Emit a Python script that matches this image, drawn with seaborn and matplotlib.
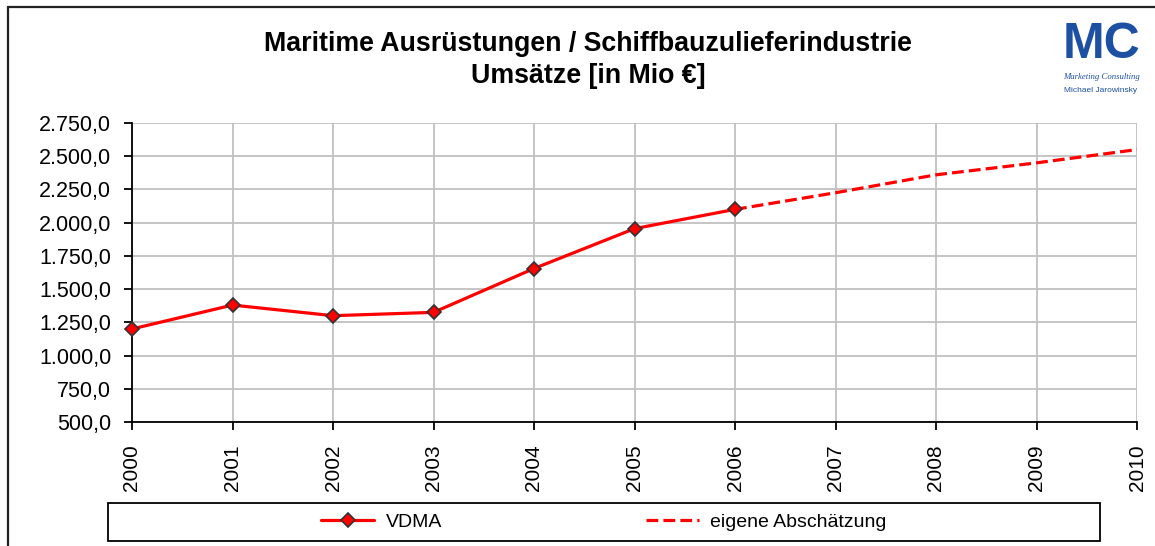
import matplotlib.pyplot as plt
import matplotlib.ticker as mticker
import pandas as pd
import seaborn as sns
from matplotlib.lines import Line2D
from matplotlib.patches import Rectangle

# VDMA figures and own estimate (Mio EUR)
years_vdma = [2000, 2001, 2002, 2003, 2004, 2005, 2006]
sales_vdma = [1200, 1380, 1300, 1325, 1655, 1955, 2100]
years_est = [2006, 2007, 2008, 2009, 2010]
sales_est = [2100, 2225, 2360, 2450, 2550]
year_ticks = list(range(2000, 2011))
y_ticks = [500, 750, 1000, 1250, 1500, 1750, 2000, 2250, 2500, 2750]

TITLE = "Maritime Ausrüstungen / Schiffbauzulieferindustrie\nUmsätze [in Mio €]"


def de_fmt(v, pos):
    s = f"{v:,.1f}"
    return s.replace(",", "X").replace(".", ",").replace("X", ".")


sns.set_theme(style="whitegrid")
plt.rcParams["font.family"] = ["Liberation Sans", "DejaVu Sans"]
plt.rcParams["text.color"] = "black"
plt.rcParams["xtick.color"] = "black"
plt.rcParams["ytick.color"] = "black"

fig = plt.figure(figsize=(11.55, 5.46), dpi=100)
W, H = 1155, 546
ax = fig.add_axes([132 / W, 1 - 422 / H, (1137 - 132) / W, (422 - 123) / H])

df_vdma = pd.DataFrame({"Jahr": years_vdma, "Umsatz": sales_vdma})
df_est = pd.DataFrame({"Jahr": years_est, "Umsatz": sales_est})

sns.lineplot(data=df_est, x="Jahr", y="Umsatz", ax=ax, color="#ff0000", linewidth=2.3,
             linestyle="--", dashes=(3.8, 2.6), label="eigene Abschätzung", zorder=3)
sns.lineplot(data=df_vdma, x="Jahr", y="Umsatz", ax=ax, color="#ff0000", linewidth=2.3,
             marker="D", markersize=7.5, markerfacecolor="#ff0000", markeredgecolor="#333333",
             markeredgewidth=1.2, label="VDMA", zorder=4, clip_on=False)

ax.set_xlim(2000, 2010)
ax.set_ylim(500, 2750)
ax.set_xticks(year_ticks)
ax.set_xticklabels([str(y) for y in year_ticks], rotation=90, fontsize=15)
ax.set_yticks(y_ticks)
ax.yaxis.set_major_formatter(mticker.FuncFormatter(de_fmt))
ax.tick_params(axis="y", labelsize=15.5, pad=9)
ax.tick_params(axis="x", pad=10)
ax.set_xlabel("")
ax.set_ylabel("")
ax.set_facecolor("white")
ax.grid(True, color="#c0c0c0", linewidth=1.3)
for side in ["top", "right"]:
    ax.spines[side].set_visible(False)
for side in ["left", "bottom"]:
    ax.spines[side].set_color("black")
    ax.spines[side].set_linewidth(1.3)
ax.tick_params(axis="both", which="major", direction="out", length=6, width=1.3,
               color="black", left=True, bottom=True, labelcolor="black")
ax.get_legend().remove()

# title
fig.text(588 / W, 1 - 60 / H, TITLE, ha="center", va="center", fontsize=19.3,
         fontweight="bold", linespacing=1.3, color="black")

# logo
fig.text(1102 / W, 1 - 45 / H, "MC", ha="center", va="center", fontsize=36,
         fontweight="bold", color="#1d50a2")
fig.text(1101 / W, 1 - 77 / H, "Marketing Consulting", ha="center", va="center",
         fontsize=6.3, style="italic", color="#1d50a2", family=["Liberation Serif"])
fig.text(1101 / W, 1 - 91 / H, "Michael Jarowinsky", ha="center", va="center",
         fontsize=6, color="#1d50a2")

# outer chart frame (left and top edges visible)
fig.add_artist(Line2D([8 / W, 8 / W], [0, 1 - 7 / H], color="#222222", linewidth=1.6))
fig.add_artist(Line2D([8 / W, 1], [1 - 7 / H, 1 - 7 / H], color="#222222", linewidth=1.6))

# legend box
fig.add_artist(Rectangle((108 / W, 1 - 541 / H), (1100 - 108) / W, 38 / H,
                         transform=fig.transFigure, fill=False, edgecolor="black", linewidth=1.3))
handles, labels = ax.get_legend_handles_labels()
order = [labels.index("VDMA"), labels.index("eigene Abschätzung")]
fig.legend([handles[i] for i in order], [labels[i] for i in order],
           loc="center", bbox_to_anchor=(604 / W, 1 - 522 / H), ncol=2, frameon=False,
           fontsize=14, handlelength=2.7, handletextpad=0.6, columnspacing=10.5,
           labelcolor="black")

fig.savefig("out.png", dpi=100)
